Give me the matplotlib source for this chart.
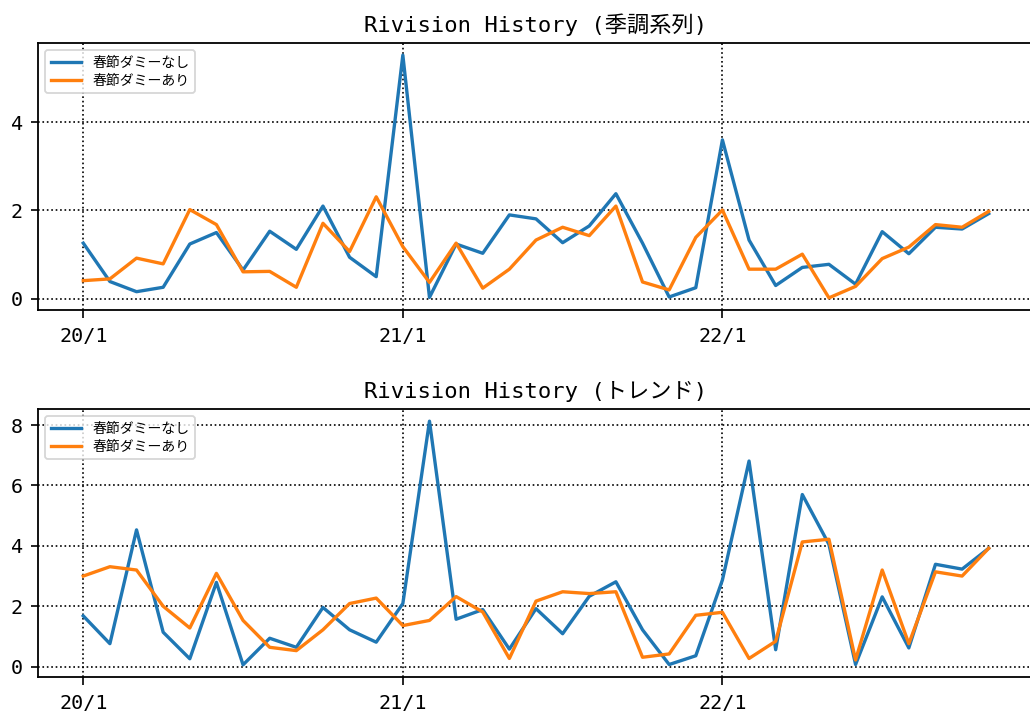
import matplotlib
matplotlib.use("Agg")
import matplotlib.pyplot as plt
import numpy as np

plt.rcParams['font.family'] = ['DejaVu Sans Mono', 'Noto Sans CJK JP']

months = list(range(35))  # 2020/1 .. 2022/11
tick_pos = [0, 12, 24]
tick_labels = ["20/1", "21/1", "22/1"]
label_nodummy = "春節ダミーなし"
label_dummy = "春節ダミーあり"

sa_nodummy = [1.26, 0.39, 0.16, 0.26, 1.24, 1.50, 0.65, 1.53, 1.12, 2.10, 0.94, 0.50,
              5.52, 0.03, 1.24, 1.03, 1.90, 1.81, 1.27, 1.65, 2.38, 1.26, 0.04, 0.25,
              3.60, 1.33, 0.30, 0.71, 0.78, 0.33, 1.52, 1.02, 1.62, 1.58, 1.93]
sa_dummy = [0.41, 0.45, 0.92, 0.79, 2.02, 1.68, 0.61, 0.62, 0.26, 1.71, 1.07, 2.31,
            1.18, 0.37, 1.26, 0.24, 0.67, 1.33, 1.62, 1.43, 2.10, 0.38, 0.20, 1.39,
            2.01, 0.67, 0.67, 1.01, 0.02, 0.28, 0.91, 1.17, 1.68, 1.62, 1.98]

tr_nodummy = [1.68, 0.76, 4.53, 1.14, 0.26, 2.79, 0.06, 0.94, 0.64, 1.96, 1.22, 0.81,
              2.09, 8.13, 1.57, 1.89, 0.58, 1.92, 1.09, 2.33, 2.81, 1.22, 0.07, 0.36,
              2.87, 6.81, 0.56, 5.70, 4.05, 0.07, 2.31, 0.62, 3.39, 3.23, 3.92]
tr_dummy = [3.00, 3.31, 3.20, 2.00, 1.28, 3.09, 1.53, 0.64, 0.53, 1.22, 2.09, 2.27,
            1.36, 1.53, 2.32, 1.81, 0.27, 2.17, 2.48, 2.42, 2.48, 0.31, 0.42, 1.70,
            1.80, 0.27, 0.84, 4.13, 4.22, 0.22, 3.20, 0.76, 3.14, 3.00, 3.92]

titles = ["Rivision History (季調系列)", "Rivision History (トレンド)"]
series = [(sa_nodummy, sa_dummy), (tr_nodummy, tr_dummy)]

W, H = 1030, 717
fig = plt.figure(figsize=(W / 100, H / 100), dpi=100)
left = 38 / W
right = 1034 / W
boxes = [(310, 43), (677, 409)]

for (bot, top), title, (s1, s2) in zip(boxes, titles, series):
    ax = fig.add_axes([left, 1 - bot / H, right - left, (bot - top) / H])
    ax.plot(months, s1, color='#1f77b4', lw=2.4, label=label_nodummy)
    ax.plot(months, s2, color='#ff7f0e', lw=2.4, label=label_dummy)
    ax.set_xticks(tick_pos)
    ax.set_xticklabels(tick_labels)
    ax.grid(True, linestyle=':', color='black', lw=1.2)
    ax.tick_params(axis='x', labelsize=14.5, length=6, width=1.2, pad=6)
    ax.tick_params(axis='y', labelsize=14.5, length=5, width=1.2, pad=6)
    for sp in ax.spines.values():
        sp.set_linewidth(1.3)
    ax.set_title(title, fontsize=16, pad=8)
    leg = ax.legend(loc='upper left', prop={'family': ['Noto Sans CJK JP'], 'size': 10},
                    handlelength=2.2, borderpad=0.4, labelspacing=0.3)
    leg.get_frame().set_linewidth(1.3)

fig.savefig("out.png", dpi=100)
